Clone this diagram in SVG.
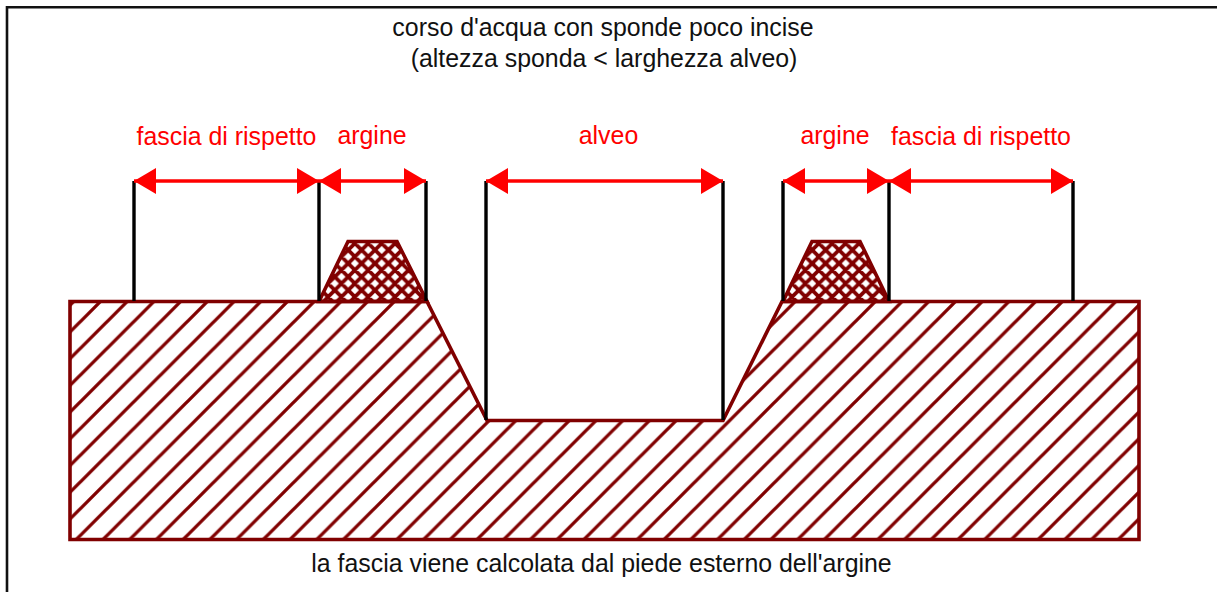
<svg xmlns="http://www.w3.org/2000/svg" width="1217" height="592" viewBox="0 0 1217 592">
<style>
text{font-family:"Liberation Sans",Arial,sans-serif;font-size:24.9px;text-anchor:middle}
.k{fill:#111}
.r{fill:#f00}
.v{stroke:#000;stroke-width:3.4;fill:none}
.d{stroke:#f00;stroke-width:3.6;fill:none;marker-start:url(#a);marker-end:url(#a)}
.h{stroke:#800000;stroke-width:3.6;fill:none}
</style>
<defs>
<marker id="a" viewBox="0 0 22 26" refX="22" refY="13" markerWidth="22" markerHeight="26" markerUnits="userSpaceOnUse" orient="auto-start-reverse"><path d="M0 0L22 13L0 26z" fill="#f00"/></marker>
<pattern id="p" width="26.72" height="26.72" patternUnits="userSpaceOnUse" x="0" y="1.2"><path d="M-2 2L2 -2M-2 28.72L28.72 -2M24.72 28.72L28.72 24.72" stroke="#800000" stroke-width="3.3"/></pattern>
<pattern id="x1" width="13.4" height="13.4" patternUnits="userSpaceOnUse" x="361.6" y="250"><path d="M-1 14.4L14.4 -1M-1 -1L14.4 14.4M-1 1L1 -1M12.4 14.4L14.4 12.4M-1 12.4L1 14.4M12.4 -1L14.4 1" stroke="#800000" stroke-width="3.8"/></pattern>
<pattern id="x2" width="13.4" height="13.4" patternUnits="userSpaceOnUse" x="825.6" y="250"><path d="M-1 14.4L14.4 -1M-1 -1L14.4 14.4M-1 1L1 -1M12.4 14.4L14.4 12.4M-1 12.4L1 14.4M12.4 -1L14.4 1" stroke="#800000" stroke-width="3.8"/></pattern>
</defs>
<rect width="1217" height="592" fill="#fff"/>
<path d="M7 592V7.3H1217" fill="none" stroke="#111" stroke-width="2.6"/>
<g id="terreno"><path class="h" style="fill:url(#p)" d="M70 301.500H427L487 420.500H723L782 301.500H1139V539.500H70Z"/></g>
<g id="argine-sinistro"><path class="h" style="fill:url(#x1)" d="M319 301.500L348 241.500H397L427 301.500Z"/></g>
<g id="argine-destro"><path class="h" style="fill:url(#x2)" d="M783 301.500L812 241.500H860L889 301.500Z"/></g>
<g id="connectors">
<path class="v" d="M134 181V301M319 181V301M426 181V301M486 181V420M723 181V420M783 181V301M889 181V301M1073 181V301"/>
<path class="d" d="M134 181H319"/>
<path class="d" d="M319 181H426"/>
<path class="d" d="M486 181H723"/>
<path class="d" d="M783 181H889"/>
<path class="d" d="M889 181H1073"/>
</g>
<g id="titolo"><text class="k" x="603" y="36">corso d'acqua con sponde poco incise</text><text class="k" x="604" y="67">(altezza sponda &lt; larghezza alveo)</text></g>
<g id="etichette">
<text class="r" x="226.500" y="145">fascia di rispetto</text>
<text class="r" x="372" y="144">argine</text>
<text class="r" x="608.500" y="144">alveo</text>
<text class="r" x="835" y="144">argine</text>
<text class="r" x="981" y="145">fascia di rispetto</text>
</g>
<g id="nota"><text class="k" x="601.500" y="572">la fascia viene calcolata dal piede esterno dell'argine</text></g>
</svg>
